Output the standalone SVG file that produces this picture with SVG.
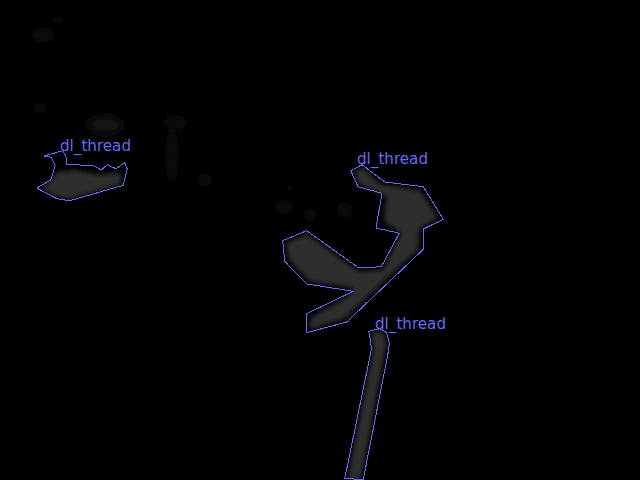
<svg xmlns="http://www.w3.org/2000/svg" width="640" height="480" viewBox="0 0 640 480">
<style>
.outline{fill:none;stroke:#6767f4;stroke-width:1;stroke-linejoin:miter;shape-rendering:crispEdges}
.lbl{font-family:"DejaVu Sans","Liberation Sans",sans-serif;font-size:16px;fill:#6a6af2}
.blob{fill:#2e2e2e;filter:url(#soft)}
.smudge{fill:#151515;filter:url(#blur4)}
</style>
<defs>
<filter id="soft" x="-20%" y="-20%" width="140%" height="140%"><feGaussianBlur stdDeviation="2.5"/></filter>
<filter id="blur4" x="-60%" y="-60%" width="220%" height="220%"><feGaussianBlur stdDeviation="5"/></filter>
</defs>
<rect width="640" height="480" fill="#000"/>
<g id="background">
<ellipse class="smudge" cx="43" cy="35" rx="14" ry="4"/>
<ellipse class="smudge" cx="58" cy="20" rx="5" ry="4"/>
<ellipse class="smudge" cx="40" cy="108" rx="10" ry="3"/>
<ellipse class="smudge" cx="105" cy="125" rx="18" ry="9"/>
<ellipse class="smudge" cx="175" cy="123" rx="12" ry="5"/>
<ellipse class="smudge" cx="172" cy="155" rx="3" ry="32"/>
<ellipse class="smudge" cx="205" cy="180" rx="4" ry="7"/>
<ellipse class="smudge" cx="290" cy="188" rx="6" ry="3"/>
<ellipse class="smudge" cx="284" cy="207" rx="8" ry="5"/>
<ellipse class="smudge" cx="345" cy="210" rx="5" ry="8"/>
<ellipse class="smudge" cx="310" cy="215" rx="8" ry="4"/>
</g>
<g id="node1">
<path class="blob" d="M50,182 L56,172 L75,170 L100,175 L120,172 L122,184 L100,191 L70,199 L57,197 L40,188 Z"/>
<polygon class="outline" points="44,156 62.7,150.7 66,156.7 66.7,164.7 92.7,165.3 101.3,170 107.3,164.7 116,168.7 124.7,162.7 127.3,169.3 123.3,185.3 100,192 70,200.7 56.7,198.7 36.7,188 50.7,180 55.3,165.3 51.3,157.3"/>
<text class="lbl" x="60" y="151" textLength="71" lengthAdjust="spacingAndGlyphs">dl_thread</text>
</g>
<g id="node2">
<path class="blob" d="M354,172 L363,167 L380,184 L420,190 L438,218 L420,228 L418,250 L345,318 L310,330 L310,318 L350,295 L353,288 L310,282 L289,260 L286,243 L307,234 L358,271 L383,270 L401,233 L384,222 L386,196 L358,184 Z"/>
<polygon class="outline" points="350.7,170.7 362,164.7 384.7,182 423.3,186.7 443.3,219.3 424,228.7 423.3,249.3 346.7,322 306.7,332.7 306,314 353.3,291.3 306.7,284 284.7,261.3 282.7,240.7 306.7,230.7 358.7,268 381.3,266.7 399.3,233.3 376,228 382,193.3 358,186.7"/>
<text class="lbl" x="357" y="164" textLength="71" lengthAdjust="spacingAndGlyphs">dl_thread</text>
</g>
<g id="node3">
<path class="blob" d="M371,333 L380,331 L385,335 L387,345 L385,352 L361,480 L347,480 L373,351 L372,342 Z"/>
<polygon class="outline" points="368.7,331.3 380,328.7 386.7,332.7 389.3,343.3 388.7,350 363.3,479.3 344.7,478.7 371.3,350 370.7,342"/>
<text class="lbl" x="375" y="329" textLength="71" lengthAdjust="spacingAndGlyphs">dl_thread</text>
</g>
</svg>
